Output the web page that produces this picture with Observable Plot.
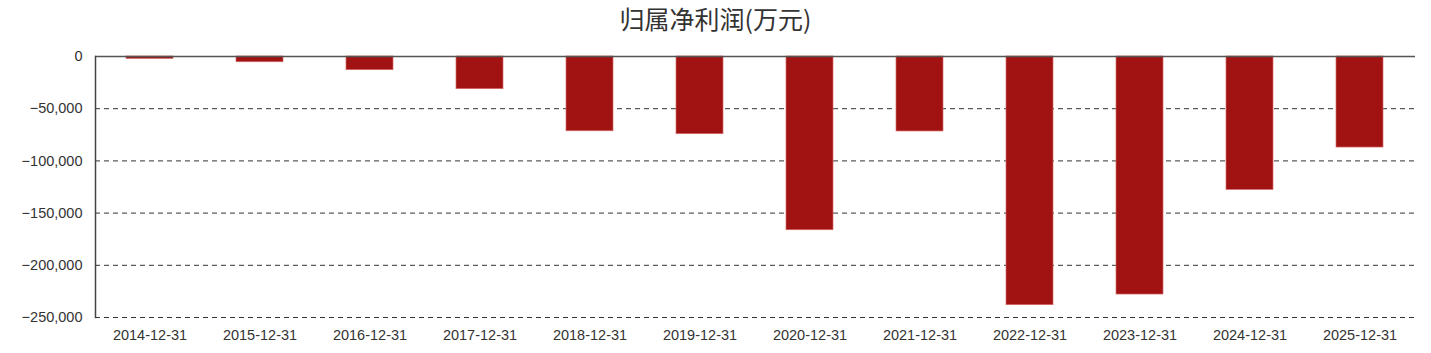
<!DOCTYPE html>
<html>
<head>
<meta charset="utf-8">
<script src="https://cdn.jsdelivr.net/npm/d3@7"></script>
<script src="https://cdn.jsdelivr.net/npm/@observablehq/plot@0.6"></script>
<style>
  html, body { margin: 0; padding: 0; background: #fff; }
  #title { height: 37px; line-height: 37px; text-align: center; font-family: "Noto Sans CJK SC", sans-serif; font-size: 25px; color: #333; }
  #chart svg { display: block; }
</style>
</head>
<body>
<div id="title">归属净利润(万元)</div>
<div id="chart"></div>
<script>
const categories = ["2014-12-31","2015-12-31","2016-12-31","2017-12-31","2018-12-31","2019-12-31","2020-12-31","2021-12-31","2022-12-31","2023-12-31","2024-12-31","2025-12-31"];
const values = [-2300, -5500, -13100, -31300, -71600, -74400, -166400, -71800, -238200, -228000, -127800, -87200];
const yTicks = [0, -50000, -100000, -150000, -200000, -250000];
const gridTicks = [-50000, -100000, -150000, -200000, -250000];

const data = categories.map((c, i) => ({date: c, value: values[i]}));
const fmt = d3.format(",");

const chart = Plot.plot({
  width: 1431,
  height: 316,
  marginTop: 19,
  marginBottom: 36,
  marginLeft: 95,
  marginRight: 16,
  style: {fontFamily: "'Liberation Sans', Arial, sans-serif", fontSize: "14.5px", color: "#333"},
  x: {domain: categories, paddingInner: 0.57, paddingOuter: 0.285, label: null},
  y: {domain: [-250000, 0], label: null},
  marks: [
    Plot.ruleY(gridTicks, {stroke: "#333", strokeWidth: 1, strokeDasharray: "5,4"}),
    Plot.barY(data, {x: "date", y: "value", fill: "#a11212", stroke: "#d86a6a", strokeWidth: 0.7}),
    Plot.ruleY([0], {stroke: "#555", strokeWidth: 1.5}),
    Plot.frame({anchor: "left", stroke: "#444", strokeWidth: 1.5}),
    Plot.axisY({ticks: yTicks, tickFormat: d => fmt(d), tickSize: 0, tickPadding: 13, label: null}),
    Plot.axisX({tickSize: 0, tickPadding: 12, label: null})
  ]
});
document.getElementById("chart").appendChild(chart);
</script>
</body>
</html>
